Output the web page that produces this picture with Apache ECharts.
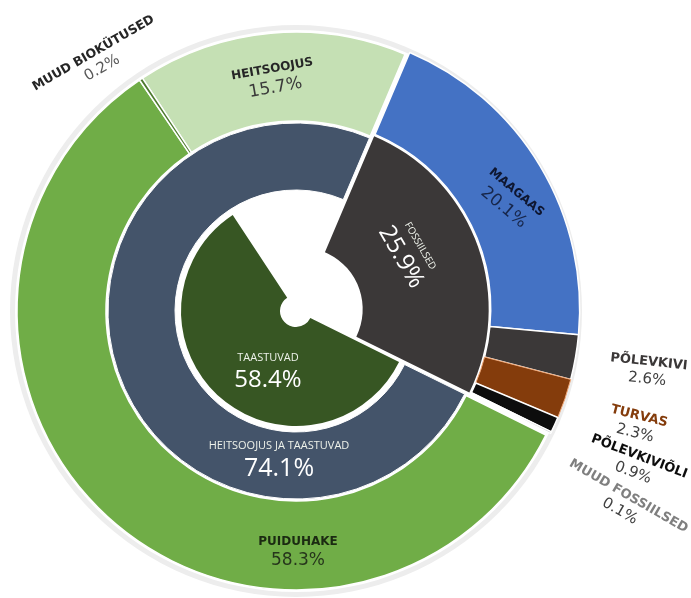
<!DOCTYPE html>
<html>
<head>
<meta charset="utf-8">
<script src="https://cdn.jsdelivr.net/npm/echarts@6/dist/echarts.min.js"></script>
<style>
  html, body { margin: 0; padding: 0; background: #ffffff; }
  #chart { width: 691px; height: 598px; }
</style>
</head>
<body>
<div id="chart"></div>
<script>
// Outer ring: individual fuels (share of heat production, %)
const outerNames = ['HEITSOOJUS', 'MAAGAAS', 'PÕLEVKIVI', 'TURVAS', 'PÕLEVKIVIÕLI', 'MUUD FOSSIILSED', 'PUIDUHAKE', 'MUUD BIOKÜTUSED'];
const outerValues = [15.7, 20.1, 2.6, 2.3, 0.9, 0.1, 58.3, 0.2];
const outerFossil = [false, true, true, true, true, true, false, false];

// Middle ring: fossil vs. waste heat + renewables
const middleNames = ['FOSSIILSED', 'HEITSOOJUS JA TAASTUVAD'];
const middleValues = [25.9, 74.1];

// Inner ring: renewables only (the rest left empty)
const innerNames = ['HEITSOOJUS', 'FOSSIILSED', 'TAASTUVAD'];
const innerValues = [15.7, 25.9, 58.4];
const innerShown = [false, false, true];

// ---- styling ----
const CENTER = [296, 311];
const OUTER_START = 123.4;   // degrees, ECharts convention
const MIDDLE_START = 67;
const FOSSIL_SHIFT = 5;      // exploded fossil group

const fills = {
  'HEITSOOJUS': '#C5E0B4', 'MAAGAAS': '#4472C4', 'PÕLEVKIVI': '#3B3838', 'TURVAS': '#843C0C',
  'PÕLEVKIVIÕLI': '#0D0D0D', 'MUUD FOSSIILSED': '#8C8C8C', 'PUIDUHAKE': '#70AD47',
  'MUUD BIOKÜTUSED': '#4E7A2E', 'FOSSIILSED': '#3B3838', 'HEITSOOJUS JA TAASTUVAD': '#44546A',
  'TAASTUVAD': '#375623'
};
// [name colour, value colour, name size, value size, line gap]
const textStyles = {
  'HEITSOOJUS': ['#262626', '#3a3a3a', 12, 17, 6],
  'MAAGAAS': ['#0e1630', '#17264a', 12, 17, 8],
  'PÕLEVKIVI': ['#3B3838', '#404040', 13, 15, 4],
  'TURVAS': ['#843C0C', '#404040', 13, 15, 4],
  'PÕLEVKIVIÕLI': ['#0D0D0D', '#404040', 13, 15, 4],
  'MUUD FOSSIILSED': ['#7F7F7F', '#404040', 13, 15, 4],
  'PUIDUHAKE': ['#1b2a12', '#26361c', 12, 17, 5],
  'MUUD BIOKÜTUSED': ['#262626', '#595959', 12.5, 15, 4]
};
// label anchor [x, y, rotation]
const labelSpot = {
  outer: {
    'HEITSOOJUS': [274, 79, 10],
    'MAAGAAS': [510, 200, -40],
    'PÕLEVKIVI': [648, 371, -6],
    'TURVAS': [637, 425, -14],
    'PÕLEVKIVIÕLI': [636, 465, -21],
    'MUUD FOSSIILSED': [624, 504, -30],
    'PUIDUHAKE': [298, 552, 0],
    'MUUD BIOKÜTUSED': [98, 61, 30]
  },
  middle: {
    'HEITSOOJUS JA TAASTUVAD': [279, 460, 0],
    'FOSSIILSED': [408, 253, -60]
  },
  inner: {
    'TAASTUVAD': [268, 372, 0]
  }
};

const pct = v => v.toFixed(1) + '%';
const hidden = {
  itemStyle: { color: 'rgba(0,0,0,0)', borderWidth: 0 },
  label: { show: false }
};

// center of the exploded fossil group, pushed out along its bisector
const total = middleValues.reduce((a, b) => a + b, 0);
const bisect = (90 - MIDDLE_START + middleValues[0] / total * 180) * Math.PI / 180;
const FOSSIL_CENTER = [CENTER[0] + FOSSIL_SHIFT * Math.sin(bisect), CENTER[1] - FOSSIL_SHIFT * Math.cos(bisect)];

function outerItem(i, wantFossil) {
  const name = outerNames[i];
  const value = outerValues[i];
  if (outerFossil[i] !== wantFossil) return Object.assign({ name, value }, hidden);
  const ts = textStyles[name];
  return {
    name, value,
    itemStyle: {
      color: fills[name],
      borderColor: name === 'TURVAS' ? '#F0A878' : '#ffffff',
      borderWidth: name === 'TURVAS' ? 1 : 1.5
    },
    label: {
      show: true,
      position: 'inside',
      formatter: '{n|' + name + '}\n{v|' + pct(value) + '}',
      rich: {
        n: { fontFamily: 'DejaVu Sans', fontWeight: 'bold', fontSize: ts[2], color: ts[0], lineHeight: ts[2] + ts[4], align: 'center' },
        v: { fontFamily: 'DejaVu Sans', fontSize: ts[3], color: ts[1], lineHeight: ts[3] + 3, align: 'center' }
      }
    }
  };
}

function innerLabel(name, value, nameSize, valueSize) {
  return {
    show: true,
    position: 'inside',
    formatter: '{n|' + name + '}\n{v|' + pct(value) + '}',
    rich: {
      n: { fontFamily: 'Open Sans', fontSize: nameSize, color: '#eef2ea', lineHeight: nameSize + 6, align: 'center' },
      v: { fontFamily: 'Open Sans', fontSize: valueSize, color: '#ffffff', lineHeight: valueSize + 4, align: 'center' }
    }
  };
}

function layoutFrom(map, names) {
  return function (p) {
    const s = map[names[p.dataIndex]];
    if (!s) return {};
    return { x: s[0], y: s[1], rotate: s[2], align: 'center', verticalAlign: 'middle' };
  };
}

const base = {
  type: 'pie',
  clockwise: true,
  avoidLabelOverlap: false,
  silent: true,
  animation: false,
  emphasis: { disabled: true },
  labelLine: { show: false }
};

const series = [
  // thin grey rim round the whole chart
  Object.assign({}, base, {
    center: CENTER, radius: [281, 286],
    data: [{ value: 1, itemStyle: { color: '#EDEDED' }, label: { show: false } }]
  }),
  // outer ring, renewable side
  Object.assign({}, base, {
    center: CENTER, radius: [190, 279], startAngle: OUTER_START,
    data: outerNames.map((n, i) => outerItem(i, false)),
    labelLayout: layoutFrom(labelSpot.outer, outerNames)
  }),
  // outer ring, fossil side (exploded)
  Object.assign({}, base, {
    center: FOSSIL_CENTER, radius: [190, 279], startAngle: OUTER_START,
    data: outerNames.map((n, i) => outerItem(i, true)),
    labelLayout: layoutFrom(labelSpot.outer, outerNames)
  }),
  // middle ring, waste heat + renewables
  Object.assign({}, base, {
    center: CENTER, radius: [121, 188], startAngle: MIDDLE_START,
    data: middleNames.map((name, i) => i === 1 ? {
      name, value: middleValues[i],
      itemStyle: { color: fills[name], borderColor: '#ffffff', borderWidth: 1 },
      label: innerLabel(name, middleValues[i], 11, 25)
    } : Object.assign({ name, value: middleValues[i] }, hidden)),
    labelLayout: layoutFrom(labelSpot.middle, middleNames)
  }),
  // fossil wedge (exploded), reaching further in
  Object.assign({}, base, {
    center: FOSSIL_CENTER, radius: [62, 188], startAngle: MIDDLE_START,
    data: middleNames.map((name, i) => i === 0 ? {
      name, value: middleValues[i],
      itemStyle: { color: fills[name] },
      label: innerLabel(name, middleValues[i], 10, 24)
    } : Object.assign({ name, value: middleValues[i] }, hidden)),
    labelLayout: layoutFrom(labelSpot.middle, middleNames)
  }),
  // inner ring, renewables
  Object.assign({}, base, {
    center: CENTER, radius: [16, 115], startAngle: OUTER_START,
    data: innerNames.map((name, i) => innerShown[i] ? {
      name, value: innerValues[i],
      itemStyle: { color: fills[name] },
      label: innerLabel(name, innerValues[i], 11, 24)
    } : Object.assign({ name, value: innerValues[i] }, hidden)),
    labelLayout: layoutFrom(labelSpot.inner, innerNames)
  })
];

const chart = echarts.init(document.getElementById('chart'), null, { renderer: 'canvas' });
chart.setOption({
  backgroundColor: '#ffffff',
  animation: false,
  series: series
});
</script>
</body>
</html>
